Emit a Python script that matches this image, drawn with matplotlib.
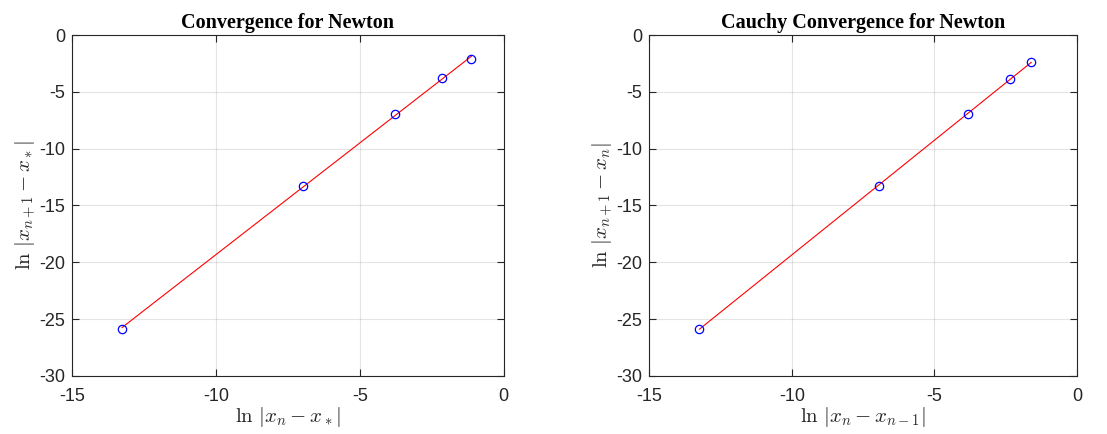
import matplotlib
matplotlib.use("Agg")
import matplotlib.pyplot as plt
import numpy as np

# error data (log scale)
err_x = [-13.26, -6.98, -3.79, -2.13, -1.12]
err_y = [-25.86, -13.25, -6.92, -3.78, -2.14]

cauchy_x = [-13.24, -6.96, -3.82, -2.34, -1.61]
cauchy_y = [-25.86, -13.25, -6.92, -3.87, -2.34]

titles = ["Convergence for Newton", "Cauchy Convergence for Newton"]
xlabels = [r"$\ln\,|x_n - x_*|$", r"$\ln\,|x_n - x_{n-1}|$"]
ylabels = [r"$\ln\,|x_{n+1} - x_*|$", r"$\ln\,|x_{n+1} - x_n|$"]

plt.rcParams['mathtext.fontset'] = 'cm'
plt.rcParams['font.family'] = ['Liberation Sans', 'DejaVu Sans']

fig = plt.figure(figsize=(11.07, 4.34), dpi=100)
axes = [fig.add_axes([0.065, 0.134, 0.39, 0.785]),
        fig.add_axes([0.5865, 0.134, 0.3865, 0.785])]

axcol = (0.15, 0.15, 0.15)
for ax, xs, ys, t, xl, yl in zip(axes, [err_x, cauchy_x], [err_y, cauchy_y], titles, xlabels, ylabels):
    p = np.polyfit(xs, ys, 1)
    xf = np.array([xs[0], xs[-1]])
    ax.plot(xf, np.polyval(p, xf), color='red', lw=0.8, zorder=2)
    ax.plot(xs, ys, 'o', mfc='none', mec='blue', ms=6, mew=0.9, zorder=3)
    ax.set_xlim(-15, 0)
    ax.set_ylim(-30, 0)
    ax.set_xticks([-15, -10, -5, 0])
    ax.set_yticks([-30, -25, -20, -15, -10, -5, 0])
    ax.set_xticklabels(['-15', '-10', '-5', '0'])
    ax.set_yticklabels(['-30', '-25', '-20', '-15', '-10', '-5', '0'])
    ax.grid(True, color=(0.15, 0.15, 0.15), alpha=0.12, lw=0.8)
    ax.set_axisbelow(True)
    ax.tick_params(direction='in', length=5, width=0.8, colors=axcol,
                   labelsize=13, top=True, right=True, pad=5)
    ax.tick_params(axis='x', pad=9)
    for s in ax.spines.values():
        s.set_color(axcol)
        s.set_linewidth(0.8)
    ax.set_title(t, fontfamily='Liberation Serif', fontweight='bold', fontsize=14.5, pad=5)
    ax.set_xlabel(xl, fontsize=15, color=axcol, labelpad=0)
    ax.set_ylabel(yl, fontsize=15, color=axcol, labelpad=1)

plt.savefig("out.png", dpi=100)
plt.close()
